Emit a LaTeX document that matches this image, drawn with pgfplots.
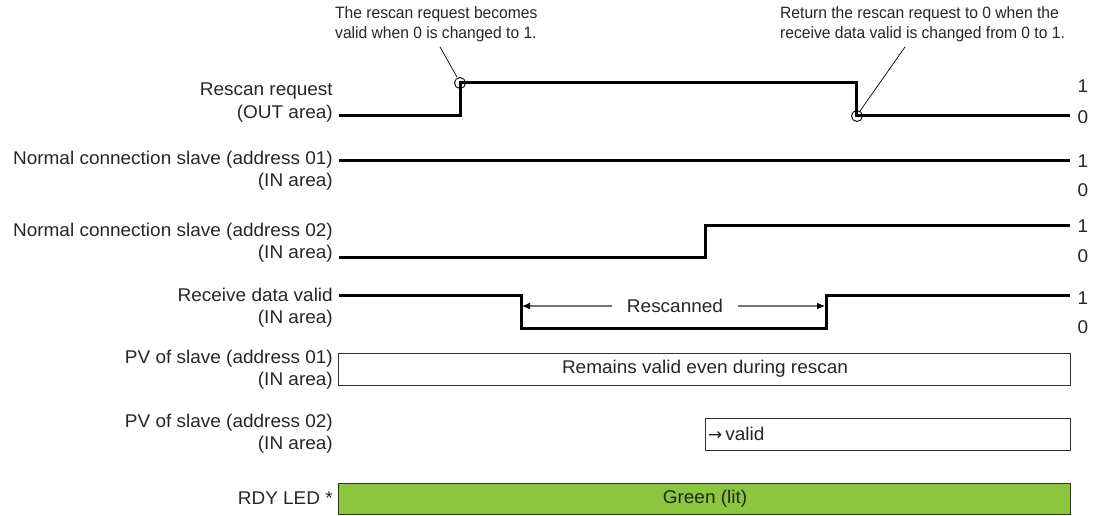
\documentclass[border=0pt]{standalone}
\usepackage{fontspec}
\setmainfont{Liberation Sans}
\newfontfamily\lblfont[FakeStretch=1.03]{Liberation Sans}
\newfontfamily\annfont[FakeStretch=0.95]{Liberation Sans}
\newfontfamily\symfont{DejaVu Sans}
\usepackage{pgfplots}
\pgfplotsset{compat=1.18}
\usetikzlibrary{arrows.meta}
\definecolor{ledgreen}{HTML}{8CC63F}
\definecolor{txt}{HTML}{262626}
\definecolor{boxline}{HTML}{333333}

\begin{document}
\begin{tikzpicture}[
  sig/.style={black, line width=3bp, line join=miter, mark=none},
  lbl/.style={anchor=east, align=right, font=\lblfont\fontsize{18.5}{22.5}\selectfont, text=txt, inner sep=0pt},
  val/.style={anchor=center, font=\lblfont\fontsize{18.5}{22.5}\selectfont, text=txt, inner sep=0pt},
  ann/.style={anchor=west, align=left, font=\annfont\fontsize{16.5}{20.5}\selectfont, text=txt, inner sep=0pt},
]
\begin{axis}[
  width=1099bp, height=516bp, scale only axis,
  xmin=0, xmax=1099, ymin=0, ymax=516, y dir=reverse,
  hide axis, clip=false,
]
\path (axis cs:0,0) rectangle (axis cs:1099,516);

% signals
\addplot[sig] coordinates {(339,116)(460,116)(460,83)(856,83)(856,116)(1070,116)};
\addplot[sig] coordinates {(339,160)(1070,160)};
\addplot[sig] coordinates {(339,257)(705,257)(705,225)(1070,225)};
\addplot[sig] coordinates {(339,295)(521,295)(521,328)(826,328)(826,295)(1070,295)};

% annotation circles and leaders
\addplot[only marks, mark=o, mark size=5.5bp, mark options={line width=0.9bp, black}] coordinates {(460,83)(857,116)};
\addplot[black, line width=0.7bp, mark=none] coordinates {(440,47)(457,77)};
\addplot[black, line width=0.7bp, mark=none] coordinates {(905,47)(860,111)};

% rescanned arrows
\addplot[black!55, line width=1.1bp, mark=none, -{Latex[length=8bp,width=7bp,color=black]}] coordinates {(612,306)(522,306)};
\addplot[black!55, line width=1.1bp, mark=none, -{Latex[length=8bp,width=7bp,color=black]}] coordinates {(738,306)(825,306)};

% boxes
\addplot[draw=boxline, line width=1bp, fill=white, mark=none] coordinates {(338,353)(1070,353)(1070,385)(338,385)(338,353)};
\addplot[draw=boxline, line width=1bp, fill=white, mark=none] coordinates {(705,418)(1070,418)(1070,450)(705,450)(705,418)};
\addplot[draw=boxline, line width=1bp, fill=ledgreen, mark=none] coordinates {(338,483)(1070,483)(1070,514)(338,514)(338,483)};

% left labels
\node[lbl] at (axis cs:333,102.5) {Rescan request\\(OUT area)};
\node[lbl] at (axis cs:333,170.5) {Normal connection slave (address 01)\\(IN area)};
\node[lbl] at (axis cs:333,243) {Normal connection slave (address 02)\\(IN area)};
\node[lbl] at (axis cs:333,308) {Receive data valid\\(IN area)};
\node[lbl] at (axis cs:333,369.5) {PV of slave (address 01)\\(IN area)};
\node[lbl] at (axis cs:333,433.5) {PV of slave (address 02)\\(IN area)};
\node[lbl] at (axis cs:333,498) {RDY LED *};

% right 1/0 labels
\node[val] at (axis cs:1083,86) {1};
\node[val] at (axis cs:1083,117) {0};
\node[val] at (axis cs:1083,161) {1};
\node[val] at (axis cs:1083,190) {0};
\node[val] at (axis cs:1083,226) {1};
\node[val] at (axis cs:1083,256) {0};
\node[val] at (axis cs:1083,298) {1};
\node[val] at (axis cs:1083,327) {0};

% in-diagram texts
\node[val] at (axis cs:675,306) {Rescanned};
\node[val] at (axis cs:705,369) {Remains valid even during rescan};
\node[val, anchor=west] at (axis cs:708,434) {{\symfont\fontsize{17}{18}\selectfont →}\hspace{3bp}valid};
\node[val] at (axis cs:705,498.5) {Green (lit)};

% annotations
\node[ann] at (axis cs:335,24) {The rescan request becomes\\valid when 0 is changed to 1.};
\node[ann] at (axis cs:780,24) {Return the rescan request to 0 when the\\receive data valid is changed from 0 to 1.};
\end{axis}
\end{tikzpicture}
\end{document}
